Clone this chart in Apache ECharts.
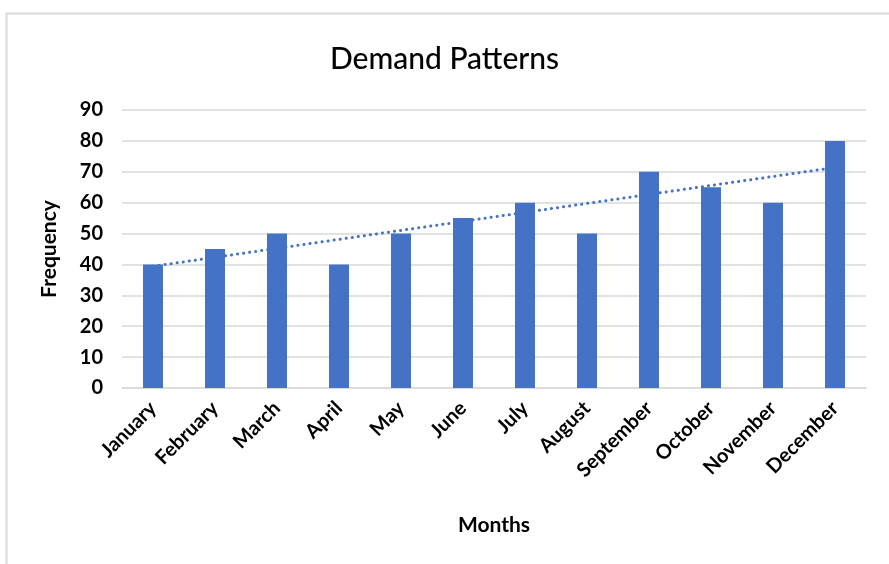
<!DOCTYPE html>
<html lang="en">
<head>
    <meta charset="UTF-8" />
    <title>Demand Patterns</title>
    <script src="https://cdn.jsdelivr.net/npm/echarts@6/dist/echarts.min.js"></script>
    <style>
        html, body { margin: 0; padding: 0; background: #fff; }
    </style>
</head>
<body>
    <div id="chart" style="width:889px;height:564px;"></div>
    <script type="text/javascript">
        var months = ['January', 'February', 'March', 'April', 'May', 'June',
            'July', 'August', 'September', 'October', 'November', 'December'];
        var frequency = [40, 45, 50, 40, 50, 55, 60, 50, 70, 65, 60, 80];
        // linear trendline, ends
        var trendEnds = [['January', 39.4], ['December', 71.4]];
        var yTicks = { min: 0, max: 90, interval: 10 };

        var chart = echarts.init(document.getElementById('chart'));
        var font = 'Lato, "Open Sans", sans-serif';

        var option = {
            animation: false,
            title: {
                text: 'Demand Patterns',
                left: 'center',
                top: 39,
                textStyle: { color: '#000', fontFamily: font, fontSize: 30, fontWeight: 500 }
            },
            graphic: [{
                type: 'rect',
                shape: { x: 6.5, y: 13.5, width: 900, height: 600 },
                style: { fill: 'none', stroke: '#d9d9d9', lineWidth: 2 },
                silent: true
            }],
            grid: { left: 122, right: 23, top: 110, bottom: 176 },
            xAxis: {
                type: 'category',
                data: months,
                name: 'Months',
                nameLocation: 'middle',
                nameGap: 127,
                nameTextStyle: { color: '#000', fontFamily: font, fontSize: 21, fontWeight: 'bold' },
                axisTick: { show: false },
                axisLine: { lineStyle: { color: '#d9d9d9', width: 1.5 } },
                axisLabel: {
                    rotate: 45,
                    margin: 17,
                    interval: 0,
                    color: '#000',
                    fontFamily: font,
                    fontSize: 20,
                    fontWeight: 'bold'
                }
            },
            yAxis: {
                type: 'value',
                min: yTicks.min,
                max: yTicks.max,
                interval: yTicks.interval,
                name: 'Frequency',
                nameLocation: 'middle',
                nameGap: 62,
                nameRotate: 90,
                nameTextStyle: { color: '#000', fontFamily: font, fontSize: 21, fontWeight: 'bold' },
                axisLabel: { color: '#000', fontFamily: font, fontSize: 20, fontWeight: 'bold', margin: 19 },
                splitLine: { lineStyle: { color: '#d9d9d9', width: 1.5 } }
            },
            series: [{
                name: 'Frequency',
                type: 'bar',
                data: frequency,
                barWidth: 20,
                itemStyle: { color: '#4472C4' },
                z: 3
            }, {
                name: 'Trend',
                type: 'line',
                data: trendEnds,
                symbol: 'none',
                lineStyle: { color: '#4472C4', width: 3, type: [0.1, 6], cap: 'round' },
                z: 2
            }]
        };

        chart.setOption(option, true);
    </script>
</body>
</html>
